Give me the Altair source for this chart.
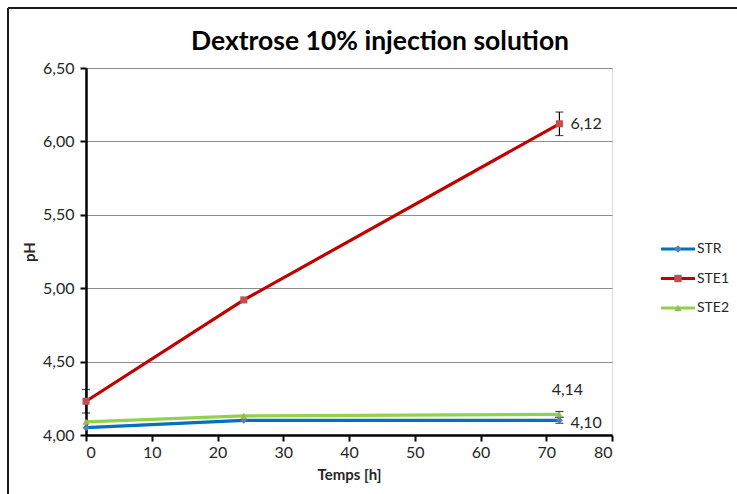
import altair as alt
import pandas as pd

# Measurements: time (h) and pH per storage condition
hours = [0, 24, 72]
series = ["STR", "STE1", "STE2"]
ph_str = [4.05, 4.10, 4.10]
ph_ste1 = [4.23, 4.92, 6.12]
ph_ste2 = [4.09, 4.13, 4.14]

# Standard deviations shown as error bars
err_str = [0.0, 0.0, 0.02]
err_ste1 = [0.08, 0.0, 0.08]
err_ste2 = [0.0, 0.0, 0.02]

line_colors = ["#0070C0", "#C00000", "#92D050"]
marker_colors = ["#4F81BD", "#C0504D", "#9BBB59"]
shapes = ["diamond", "square", "triangle-up"]

title_text = "Dextrose 10% injection solution"

rows = []
for name, vals, errs in [("STR", ph_str, err_str), ("STE1", ph_ste1, err_ste1), ("STE2", ph_ste2, err_ste2)]:
    for t, v, e in zip(hours, vals, errs):
        rows.append({"t": t, "ph": v, "series": name, "marker": name,
                     "lo": v - e, "hi": v + e, "err": e})
df = pd.DataFrame(rows)

# Value labels at the last time point
labels = pd.DataFrame({
    "t": [72, 72, 72],
    "ph": [ph_ste1[2], ph_str[2], ph_ste2[2]],
    "series": ["STE1", "STR", "STE2"],
})
labels["txt"] = labels["ph"].map(lambda v: f"{v:.2f}".replace(".", ","))

FONT = "Lato"
FS = 16
TXT = "#262626"
comma = "replace(format(datum.value, '.2f'), '.', ',')"

x_enc = alt.X("t:Q", scale=alt.Scale(domain=[0, 80], nice=False),
              axis=alt.Axis(title="Temps [h]", values=list(range(0, 81, 10)), grid=False,
                            domainWidth=2.5, domainColor="black", tickColor="black", tickWidth=2,
                            tickSize=6, labelFontSize=FS, labelColor=TXT, labelFont=FONT,
                            titleFont=FONT, titleFontSize=15, titleFontWeight="bold",
                            titleColor=TXT, titlePadding=7, labelPadding=3))
y_enc = alt.Y("ph:Q", scale=alt.Scale(domain=[4.0, 6.5], nice=False, zero=False),
              axis=alt.Axis(title="pH", values=[4.0, 4.5, 5.0, 5.5, 6.0, 6.5], labelExpr=comma,
                            grid=True, gridColor="#8c8c8c", gridWidth=1.2,
                            domainWidth=2.5, domainColor="black", tickColor="black", tickWidth=2,
                            tickSize=6, labelFontSize=FS, labelColor=TXT, labelFont=FONT,
                            titleFont=FONT, titleFontSize=15, titleFontWeight="bold",
                            titleColor=TXT, titlePadding=5, labelPadding=6))

color_scale = alt.Scale(domain=series, range=line_colors)

base = alt.Chart(df)

lines = base.mark_line(strokeWidth=3.2).encode(
    x=x_enc, y=y_enc,
    color=alt.Color("series:N", scale=color_scale, sort=series, legend=None),
)

points = base.mark_point(filled=True, size=50, opacity=1).encode(
    x="t:Q", y="ph:Q",
    fill=alt.Fill("marker:N", scale=alt.Scale(domain=series, range=marker_colors), legend=None),
    shape=alt.Shape("marker:N", scale=alt.Scale(domain=series, range=shapes), legend=None),
)

err = base.transform_filter("datum.err > 0")
err_rule = err.mark_rule(color="black", strokeWidth=1.2).encode(x="t:Q", y="lo:Q", y2="hi:Q")
err_lo = err.mark_tick(color="black", thickness=1.2, size=8, orient="horizontal").encode(x="t:Q", y="lo:Q")
err_hi = err.mark_tick(color="black", thickness=1.2, size=8, orient="horizontal").encode(x="t:Q", y="hi:Q")

lab = alt.Chart(labels)
lab_ste1 = lab.transform_filter("datum.series == 'STE1'").mark_text(
    align="left", baseline="middle", dx=11, font=FONT, fontSize=FS, color=TXT).encode(
    x="t:Q", y="ph:Q", text="txt:N")
lab_str = lab.transform_filter("datum.series == 'STR'").mark_text(
    align="left", baseline="middle", dx=11, dy=3, font=FONT, fontSize=FS, color=TXT).encode(
    x="t:Q", y="ph:Q", text="txt:N")
lab_ste2 = lab.transform_filter("datum.series == 'STE2'").mark_text(
    align="center", baseline="middle", dx=8, dy=-24, font=FONT, fontSize=FS, color=TXT).encode(
    x="t:Q", y="ph:Q", text="txt:N")

# Legend: a short line with the series marker, one row per series
legend_layers = []
for i, name in enumerate(series):
    row = alt.Chart(pd.DataFrame({"series": [name]}))
    ypos = 181 + i * 29.5
    legend_layers.append(row.mark_rule(color=line_colors[i], strokeWidth=3.2).encode(
        x=alt.value(575), x2=alt.value(609), y=alt.value(ypos)))
    legend_layers.append(row.mark_point(filled=True, size=55, opacity=1, color=marker_colors[i],
                                        shape=shapes[i]).encode(
        x=alt.value(592), y=alt.value(ypos)))
    legend_layers.append(row.mark_text(align="left", baseline="middle", font=FONT, fontSize=14,
                                       color=TXT).encode(
        x=alt.value(611), y=alt.value(ypos), text="series:N"))

# Chart title
title = alt.Chart(pd.DataFrame({"title": [title_text]})).mark_text(
    align="center", baseline="middle", font=FONT, fontSize=26.5, fontWeight="bold", color="black"
).encode(x=alt.value(294), y=alt.value(-26), text="title:N")

# Outer frame lines (top and left)
frame = pd.DataFrame({"k": [0]})
frame_top = alt.Chart(frame).mark_rule(color="#1a1a1a", strokeWidth=2).encode(
    x=alt.value(-78), x2=alt.value(680), y=alt.value(-60))
frame_left = alt.Chart(frame).mark_rule(color="#1a1a1a", strokeWidth=2).encode(
    x=alt.value(-78), y=alt.value(-60), y2=alt.value(440))

chart = alt.layer(
    frame_top, frame_left, title, lines, err_rule, err_lo, err_hi, points,
    lab_ste1, lab_str, lab_ste2, *legend_layers
).properties(
    width=526, height=367,
    padding={"left": 86, "top": 68, "right": 125, "bottom": 59},
    autosize=alt.AutoSizeParams(type="none"),
).configure_view(stroke=None).configure(background="white")

chart.save("out.html", embed_options={"renderer": "svg", "actions": False})
